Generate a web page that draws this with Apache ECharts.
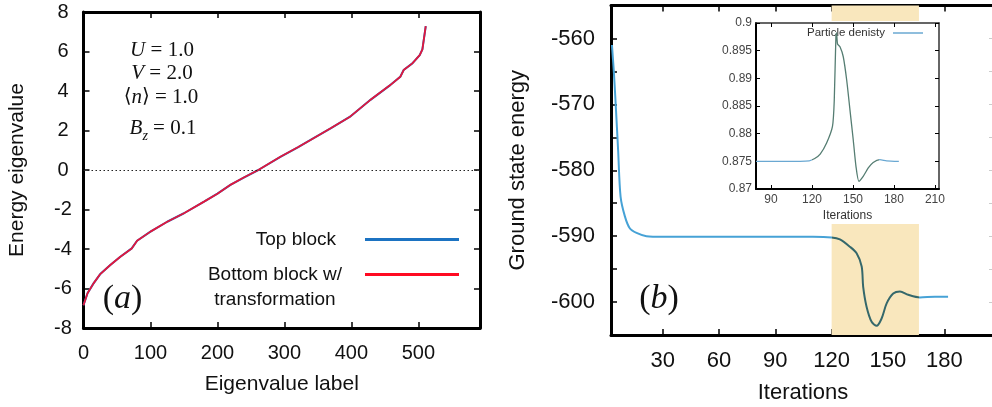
<!DOCTYPE html>
<html>
<head>
<meta charset="utf-8">
<script src="https://cdn.jsdelivr.net/npm/echarts@6/dist/echarts.min.js"></script>
<style>
  html, body { margin: 0; padding: 0; background: #fff; }
  #chart { width: 992px; height: 407px; }
</style>
</head>
<body>
<div id="chart"></div>
<script>
// ---- (a) eigenvalue spectrum ----
const eigLabels = [0, 6, 15, 25, 40, 55, 72, 80, 100, 125, 150, 180, 200, 220, 240, 261, 294, 320, 339, 369, 398, 428, 458, 473, 478, 491, 502, 506, 511];
const eigValues = [-6.85, -6.24, -5.74, -5.27, -4.81, -4.39, -3.97, -3.58, -3.12, -2.62, -2.19, -1.6, -1.2, -0.74, -0.37, 0.0, 0.67, 1.15, 1.52, 2.11, 2.7, 3.54, 4.3, 4.72, 5.06, 5.4, 5.82, 6.11, 7.29];
const labelTicks = [0, 100, 200, 300, 400, 500];
const eigTicks = [-8, -6, -4, -2, 0, 2, 4, 6, 8];

// ---- (b) ground state energy during iterations ----
const iterSteps = [3, 4, 5, 6.3, 7.6, 9.9, 12.5, 16.1, 21.4, 30, 60, 90, 110, 120, 124.4, 129.7, 133.3, 136, 136.8, 138.6, 141.3, 144, 146.6, 149.3, 152.8, 156.4, 160.8, 167, 175, 182];
const groundEnergy = [-561, -565, -570, -577, -584, -587, -588.8, -589.5, -590, -590.1, -590.1, -590.1, -590.1, -590.2, -590.5, -591.6, -592.6, -594.6, -597.7, -600.7, -603, -603.6, -602.5, -600.2, -598.7, -598.4, -598.9, -599.3, -599.2, -599.2];
const iterTicks = [30, 60, 90, 120, 150, 180];
const energyLabels = [-600, -590, -580, -570, -560];
const energyTicks = [-600, -595, -590, -585, -580, -575, -570, -565, -560];
const bandMain = [120, 166.5];

// ---- inset: particle density ----
const insetSteps = [79, 100, 118, 122, 126, 130.7, 135, 136.3, 137.5, 138, 138.7, 140.5, 142.9, 145.4, 147.8, 150.2, 152.2, 154.3, 157.5, 161.2, 164.8, 169.7, 174.6, 183.6];
const density = [0.875, 0.875, 0.8751, 0.8755, 0.8763, 0.8783, 0.8813, 0.886, 0.8975, 0.8982, 0.8962, 0.8957, 0.8939, 0.8897, 0.8843, 0.8789, 0.8741, 0.8714, 0.8723, 0.8738, 0.8748, 0.8753, 0.8751, 0.875];
const insetIterTicks = [90, 120, 150, 180, 210];
const densityTicks = [0.87, 0.875, 0.88, 0.885, 0.89, 0.895, 0.9];
const bandInset = [120, 169];

const SANS = '"Liberation Sans", Arial, Helvetica, sans-serif';
const SERIF = '"Liberation Serif", "Times New Roman", serif';
const BAND = '#f9e7bd';

const zip = (xs, ys) => xs.map((x, i) => [x, ys[i]]);

function frameAxis(o) {
  // one side of a boxed plot frame, ticks pointing inward
  return Object.assign({
    type: 'value',
    axisLine: { show: true, onZero: false, lineStyle: { color: '#000', width: o.lw || 3 } },
    axisTick: { show: true, inside: true, length: o.tl || 6, customValues: o.ticks,
                lineStyle: { color: '#000', width: o.tw || 1.5 } },
    axisLabel: { show: false },
    splitLine: { show: false }
  }, o.extra || {});
}

const chart = echarts.init(document.getElementById('chart'), null, { renderer: 'canvas' });

const option = {
  animation: false,
  backgroundColor: '#fff',
  grid: [
    { left: 83.5, top: 12, width: 396.5, height: 316, outerBoundsMode: 'none', containLabel: false },
    { left: 611, top: 5.5, width: 384, height: 329.5, outerBoundsMode: 'none', containLabel: false },
    { left: 756, top: 23, width: 183, height: 166, outerBoundsMode: 'none', containLabel: false }
  ],
  xAxis: [
    Object.assign(frameAxis({ ticks: labelTicks }), {
      gridIndex: 0, position: 'bottom', min: 0, max: 592,
      axisLabel: { show: true, customValues: labelTicks, margin: 15, color: '#111', fontSize: 20, fontFamily: SANS },
      name: 'Eigenvalue label', nameLocation: 'middle', nameGap: 46,
      nameTextStyle: { fontSize: 21, fontFamily: SANS, color: '#111' }
    }),
    Object.assign(frameAxis({ ticks: labelTicks }), { gridIndex: 0, position: 'top', min: 0, max: 592 }),
    Object.assign(frameAxis({ ticks: iterTicks }), {
      gridIndex: 1, position: 'bottom', min: 2.5, max: 207,
      axisLabel: { show: true, customValues: iterTicks, margin: 15, color: '#111', fontSize: 22, fontFamily: SANS },
      name: 'Iterations', nameLocation: 'middle', nameGap: 47,
      nameTextStyle: { fontSize: 22, fontFamily: SANS, color: '#111' }
    }),
    Object.assign(frameAxis({ ticks: iterTicks }), { gridIndex: 1, position: 'top', min: 2.5, max: 207 }),
    Object.assign(frameAxis({ ticks: insetIterTicks, lw: 2, tl: 4, tw: 1 }), {
      gridIndex: 2, position: 'bottom', min: 79, max: 213, z: 10,
      axisLabel: { show: true, customValues: insetIterTicks, margin: 5, color: '#444', fontSize: 12, fontFamily: SANS },
      name: 'Iterations', nameLocation: 'middle', nameGap: 21,
      nameTextStyle: { fontSize: 12, fontFamily: SANS, color: '#333' }
    }),
    Object.assign(frameAxis({ ticks: insetIterTicks, lw: 1.5, tl: 4, tw: 1 }), {
      gridIndex: 2, position: 'top', min: 79, max: 213, z: 10,
      axisLine: { show: true, onZero: false, lineStyle: { color: '#333', width: 1.5 } }
    })
  ],
  yAxis: [
    Object.assign(frameAxis({ ticks: eigTicks }), {
      gridIndex: 0, position: 'left', min: -8, max: 8,
      axisLabel: { show: true, customValues: eigTicks, margin: 20.5, align: 'center', color: '#111', fontSize: 20, fontFamily: SANS },
      name: 'Energy eigenvalue', nameLocation: 'middle', nameGap: 56,
      nameTextStyle: { fontSize: 21, fontFamily: SANS, color: '#111' }
    }),
    Object.assign(frameAxis({ ticks: eigTicks }), { gridIndex: 0, position: 'right', min: -8, max: 8 }),
    Object.assign(frameAxis({ ticks: energyTicks }), {
      gridIndex: 1, position: 'left', min: -605, max: -555,
      axisLabel: { show: true, customValues: energyLabels, margin: 16, color: '#111', fontSize: 22, fontFamily: SANS },
      name: 'Ground state energy', nameLocation: 'middle', nameGap: 82,
      nameTextStyle: { fontSize: 22, fontFamily: SANS, color: '#111' }
    }),
    Object.assign(frameAxis({ ticks: energyTicks, lw: 1, tw: 1 }), {
      gridIndex: 1, position: 'right', min: -605, max: -555,
      axisLine: { show: true, onZero: false, lineStyle: { color: '#bbb', width: 1 } },
      axisTick: { show: true, inside: true, length: 6, customValues: energyTicks, lineStyle: { color: '#ccc', width: 1 } }
    }),
    Object.assign(frameAxis({ ticks: densityTicks, lw: 2, tl: 4, tw: 1 }), {
      gridIndex: 2, position: 'left', min: 0.87, max: 0.9, z: 10,
      axisLabel: { show: true, customValues: densityTicks, margin: 4, color: '#444', fontSize: 12, fontFamily: SANS }
    }),
    Object.assign(frameAxis({ ticks: densityTicks, lw: 1.5, tl: 4, tw: 1 }), {
      gridIndex: 2, position: 'right', min: 0.87, max: 0.9, z: 10,
      axisLine: { show: true, onZero: false, lineStyle: { color: '#333', width: 1.5 } }
    })
  ],
  legend: [
    {
      data: ['Top block'], right: 533, top: 230, orient: 'vertical', align: 'right',
      icon: 'rect', itemWidth: 94, itemHeight: 3, padding: 0, selectedMode: false,
      textStyle: { fontSize: 19, fontFamily: SANS, color: '#111', padding: [0, 24, 0, 0] }
    },
    {
      data: ['Bottom block w/ transformation'], right: 533, top: 265, orient: 'vertical', align: 'right',
      icon: 'rect', itemWidth: 94, itemHeight: 3, padding: 0, selectedMode: false,
      formatter: () => '{a|Bottom block w/}\n{a|transformation}',
      textStyle: {
        fontSize: 19, fontFamily: SANS, color: '#111', padding: [25, 18, 0, 0],
        rich: { a: { fontSize: 19, fontFamily: SANS, color: '#111', lineHeight: 25, align: 'center' } }
      }
    },
    {
      data: ['Particle denisty'], right: 69, top: 27, orient: 'vertical', align: 'right', z: 10,
      icon: 'rect', itemWidth: 30, itemHeight: 1.5, padding: 0, selectedMode: false,
      textStyle: { fontSize: 11.5, fontFamily: SANS, color: '#333', padding: [0, 3, 0, 0] }
    }
  ],
  visualMap: [
    {
      type: 'piecewise', show: false, seriesIndex: 2, dimension: 0,
      pieces: [
        { lt: bandMain[0], color: '#46a2d6' },
        { gte: bandMain[0], lte: bandMain[1], color: '#35686b' },
        { gt: bandMain[1], color: '#46a2d6' }
      ]
    },
    {
      type: 'piecewise', show: false, seriesIndex: 3, dimension: 0,
      pieces: [
        { lt: bandInset[0], color: '#6aa8d2' },
        { gte: bandInset[0], lte: bandInset[1], color: '#557d72' },
        { gt: bandInset[1], color: '#6aa8d2' }
      ]
    }
  ],
  series: [
    {
      name: 'Top block', type: 'line', xAxisIndex: 0, yAxisIndex: 0,
      data: zip(eigLabels, eigValues), showSymbol: false, symbol: 'none',
      color: '#1c73c2', lineStyle: { color: '#1c73c2', width: 2 }, itemStyle: { color: '#1c73c2' }
    },
    {
      name: 'Bottom block w/ transformation', type: 'line', xAxisIndex: 0, yAxisIndex: 0,
      data: zip(eigLabels, eigValues), showSymbol: false, symbol: 'none',
      color: '#ff0a22', lineStyle: { color: '#e3163c', width: 1.8 }, itemStyle: { color: '#ff0a22' },
      markLine: {
        silent: true, symbol: 'none', label: { show: false }, animation: false,
        lineStyle: { color: '#222', type: [1.5, 2.5], width: 1 },
        data: [{ yAxis: 0 }]
      }
    },
    {
      name: 'Ground state energy', type: 'line', xAxisIndex: 2, yAxisIndex: 2,
      data: zip(iterSteps, groundEnergy), showSymbol: false, symbol: 'none', smooth: 0.3,
      lineStyle: { width: 2 },
      markArea: {
        silent: true, itemStyle: { color: BAND },
        data: [[{ xAxis: bandMain[0] }, { xAxis: bandMain[1] }]]
      }
    },
    {
      name: 'Particle denisty', type: 'line', xAxisIndex: 4, yAxisIndex: 4, z: 10,
      data: zip(insetSteps, density), showSymbol: false, symbol: 'none', smooth: 0.2,
      color: '#6aa8d2', lineStyle: { width: 1.3 }, itemStyle: { color: '#6aa8d2' },
      markArea: {
        silent: true, itemStyle: { color: BAND },
        data: [[{ xAxis: bandInset[0] }, { xAxis: bandInset[1] }]]
      }
    }
  ],
  graphic: [
    // white panel behind the inset
    { type: 'rect', z: 5, silent: true, shape: { x: 726, y: 21, width: 224, height: 203 }, style: { fill: '#fff' } },
    // model parameters
    { type: 'text', x: 162, y: 50, silent: true,
      style: { text: '{i|U}{r| = 1.0}', align: 'center', verticalAlign: 'middle', fill: '#111',
        rich: { i: { fontFamily: SERIF, fontSize: 21, fontStyle: 'italic', verticalAlign: 'middle' },
                r: { fontFamily: SERIF, fontSize: 21, verticalAlign: 'middle' } } } },
    { type: 'text', x: 162, y: 73.5, silent: true,
      style: { text: '{i|V}{r| = 2.0}', align: 'center', verticalAlign: 'middle', fill: '#111',
        rich: { i: { fontFamily: SERIF, fontSize: 21, fontStyle: 'italic', verticalAlign: 'middle' },
                r: { fontFamily: SERIF, fontSize: 21, verticalAlign: 'middle' } } } },
    { type: 'text', x: 161, y: 97, silent: true,
      style: { text: '{b|⟨}{i|n}{b|⟩}{r| = 1.0}', align: 'center', verticalAlign: 'middle', fill: '#111',
        rich: { i: { fontFamily: SERIF, fontSize: 21, fontStyle: 'italic', verticalAlign: 'middle' },
                b: { fontFamily: '"DejaVu Serif", serif', fontSize: 20, verticalAlign: 'middle' },
                r: { fontFamily: SERIF, fontSize: 21, verticalAlign: 'middle' } } } },
    { type: 'text', x: 163, y: 128, silent: true,
      style: { text: '{i|B}{s|z}{r| = 0.1}', align: 'center', verticalAlign: 'middle', fill: '#111',
        rich: { i: { fontFamily: SERIF, fontSize: 21, fontStyle: 'italic', lineHeight: 30, verticalAlign: 'middle' },
                s: { fontFamily: SERIF, fontSize: 14, fontStyle: 'italic', lineHeight: 14, verticalAlign: 'bottom' },
                r: { fontFamily: SERIF, fontSize: 21, lineHeight: 30, verticalAlign: 'middle' } } } },
    // panel tags
    { type: 'text', x: 122.5, y: 299, silent: true,
      style: { text: '{p|(}{i|a}{p|)}', align: 'center', verticalAlign: 'middle', fill: '#111',
        rich: { p: { fontFamily: SERIF, fontSize: 34 }, i: { fontFamily: SERIF, fontSize: 34, fontStyle: 'italic' } } } },
    { type: 'text', x: 659, y: 299, silent: true,
      style: { text: '{p|(}{i|b}{p|)}', align: 'center', verticalAlign: 'middle', fill: '#111',
        rich: { p: { fontFamily: SERIF, fontSize: 34 }, i: { fontFamily: SERIF, fontSize: 34, fontStyle: 'italic' } } } }
  ]
};

chart.setOption(option);
</script>
</body>
</html>
